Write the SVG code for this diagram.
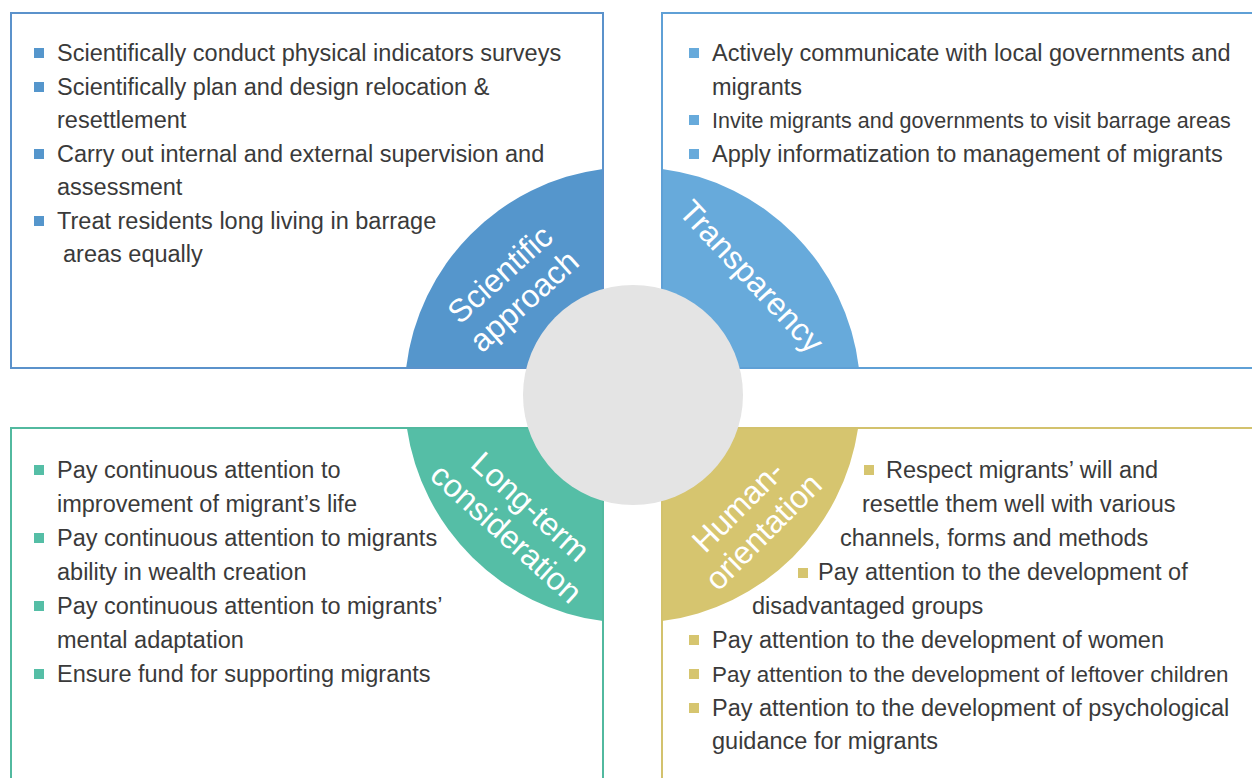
<svg xmlns="http://www.w3.org/2000/svg" width="1252" height="778" viewBox="0 0 1252 778">
<style>
.t{font-family:"Liberation Sans",Arial,sans-serif;font-size:23.5px;fill:#3a3a3a}
.s{font-family:"Liberation Sans",Arial,sans-serif;font-size:32px;fill:#ffffff;text-anchor:middle}
.box{fill:#ffffff;stroke-width:2}
.b1{fill:#5596cc}.b2{fill:#67aadb}.b3{fill:#55bea6}.b4{fill:#d6c56f}
</style>
<rect x="0" y="0" width="1252" height="778" fill="#ffffff"/>

<g id="scientific">
<rect class="box" x="11" y="13" width="592" height="355" fill="#fff" stroke="#5b92cb"/>
<path class="b1" d="M603,368 L406.1,368 A228,228 0 0 1 603,168.9 Z"/>
<rect x="11" y="13" width="592" height="355" fill="none" stroke="#5b92cb" stroke-width="2"/>
<g class="b1">
<rect x="34" y="48" width="10" height="10"/>
<rect x="34" y="82" width="10" height="10"/>
<rect x="34" y="149" width="10" height="10"/>
<rect x="34" y="216" width="10" height="10"/>
</g>
<text class="t" x="57" y="61">Scientifically conduct physical indicators surveys</text>
<text class="t" x="57" y="95">Scientifically plan and design relocation &amp;</text>
<text class="t" x="57" y="128">resettlement</text>
<text class="t" x="57" y="162">Carry out internal and external supervision and</text>
<text class="t" x="57" y="195">assessment</text>
<text class="t" x="57" y="229">Treat residents long living in barrage</text>
<text class="t" x="63" y="262">areas equally</text>
<g transform="translate(512,287.5) rotate(-42)">
<text class="s" x="0" y="-7">Scientific</text>
<text class="s" x="0" y="29">approach</text>
</g>
</g>

<g id="transparency">
<rect class="box" x="662" y="13" width="600" height="355" fill="#fff" stroke="#5fa0d6"/>
<path class="b2" d="M662,368 L662,168.9 A228,228 0 0 1 858.9,368 Z"/>
<rect x="662" y="13" width="600" height="355" fill="none" stroke="#5fa0d6" stroke-width="2"/>
<g class="b2">
<rect x="689" y="48" width="10" height="10"/>
<rect x="689" y="115" width="10" height="10"/>
<rect x="689" y="149" width="10" height="10"/>
</g>
<text class="t" x="712" y="61">Actively communicate with local governments and</text>
<text class="t" x="712" y="95">migrants</text>
<text class="t" x="712" y="128" style="font-size:21.5px">Invite migrants and governments to visit barrage areas</text>
<text class="t" x="712" y="162">Apply informatization to management of migrants</text>
<g transform="translate(752,276) rotate(47)">
<text class="s" x="0" y="11.5">Transparency</text>
</g>
</g>

<g id="longterm">
<rect class="box" x="11" y="428" width="592" height="360" fill="#fff" stroke="#52b99f"/>
<path class="b3" d="M603,428 L603,621.1 A228,228 0 0 1 406.9,428 Z"/>
<rect x="11" y="428" width="592" height="360" fill="none" stroke="#52b99f" stroke-width="2"/>
<g class="b3">
<rect x="34" y="465" width="10" height="10"/>
<rect x="34" y="533" width="10" height="10"/>
<rect x="34" y="601" width="10" height="10"/>
<rect x="34" y="669" width="10" height="10"/>
</g>
<text class="t" x="57" y="478">Pay continuous attention to</text>
<text class="t" x="57" y="512">improvement of migrant’s life</text>
<text class="t" x="57" y="546">Pay continuous attention to migrants</text>
<text class="t" x="57" y="580">ability in wealth creation</text>
<text class="t" x="57" y="614">Pay continuous attention to migrants’</text>
<text class="t" x="57" y="648">mental adaptation</text>
<text class="t" x="57" y="682">Ensure fund for supporting migrants</text>
<g transform="translate(518.5,520) rotate(42)">
<text class="s" x="0" y="-7">Long-term</text>
<text class="s" x="0" y="29">consideration</text>
</g>
</g>

<g id="human">
<rect class="box" x="662" y="428" width="600" height="360" fill="#fff" stroke="#d3c26d"/>
<path class="b4" d="M662,428 L858.1,428 A228,228 0 0 1 662,621.1 Z"/>
<rect x="662" y="428" width="600" height="360" fill="none" stroke="#d3c26d" stroke-width="2"/>
<g class="b4">
<rect x="864" y="465" width="10" height="10"/>
<rect x="798" y="568" width="10" height="10"/>
<rect x="689" y="635" width="10" height="10"/>
<rect x="689" y="669" width="10" height="10"/>
<rect x="689" y="703" width="10" height="10"/>
</g>
<text class="t" x="886" y="478">Respect migrants’ will and</text>
<text class="t" x="862" y="512">resettle them well with various</text>
<text class="t" x="840" y="546">channels, forms and methods</text>
<text class="t" x="818" y="580">Pay attention to the development of</text>
<text class="t" x="752" y="614">disadvantaged groups</text>
<text class="t" x="712" y="648">Pay attention to the development of women</text>
<text class="t" x="712" y="682" style="font-size:22.4px">Pay attention to the development of leftover children</text>
<text class="t" x="712" y="716">Pay attention to the development of psychological</text>
<text class="t" x="712" y="749">guidance for migrants</text>
<g transform="translate(750.5,519) rotate(-45)">
<text class="s" x="0" y="-7">Human-</text>
<text class="s" x="0" y="29">orientation</text>
</g>
</g>

<g id="center">
<circle cx="633" cy="395" r="110" fill="#e4e4e4"/>
</g>
<g id="connectors"></g>
</svg>
